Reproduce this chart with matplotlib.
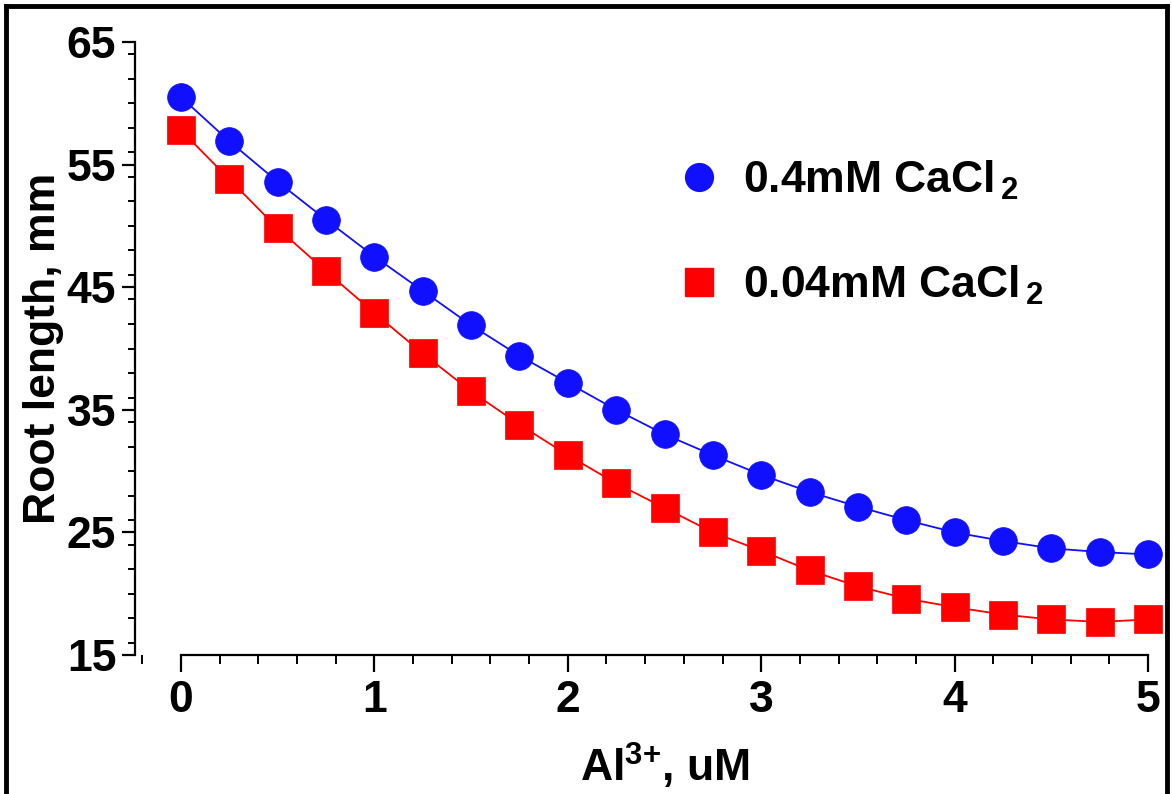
import numpy as np
import matplotlib
matplotlib.use("Agg")
import matplotlib.pyplot as plt
from matplotlib.lines import Line2D
from matplotlib.ticker import MultipleLocator

# ============================================================
# Data
# ============================================================
al_conc = [0, 0.25, 0.5, 0.75, 1.0, 1.25, 1.5, 1.75, 2.0, 2.25, 2.5,
           2.75, 3.0, 3.25, 3.5, 3.75, 4.0, 4.25, 4.5, 4.75, 5.0]
root_high_ca = [60.5, 56.9, 53.6, 50.5, 47.5, 44.7, 41.9, 39.4, 37.2, 35.0, 33.0,
                31.3, 29.7, 28.3, 27.1, 26.0, 25.0, 24.3, 23.7, 23.4, 23.2]
root_low_ca = [57.8, 53.8, 49.8, 46.3, 42.9, 39.6, 36.5, 33.8, 31.3, 29.0, 27.0,
               25.0, 23.5, 21.9, 20.6, 19.6, 18.9, 18.3, 17.9, 17.7, 17.9]
series_labels = ["0.4mM CaCl$_{\\,2}$", "0.04mM CaCl$_{\\,2}$"]
y_ticks = [15, 25, 35, 45, 55, 65]
x_ticks = [0, 1, 2, 3, 4, 5]

# ============================================================
# Style
# ============================================================
plt.rcParams["font.family"] = ["Liberation Sans", "DejaVu Sans"]
plt.rcParams["font.weight"] = "bold"
plt.rcParams["mathtext.fontset"] = "custom"
plt.rcParams["mathtext.rm"] = "Liberation Sans:bold"
plt.rcParams["mathtext.it"] = "Liberation Sans:bold"
plt.rcParams["mathtext.bf"] = "Liberation Sans:bold"
plt.rcParams["mathtext.default"] = "rm"

FS = 32
BLUE = "#1010ff"
RED = "#ff0000"

fig = plt.figure(figsize=(11.72, 7.94), dpi=100)
ax = fig.add_axes([135 / 1172, 1 - 655 / 794, (1167 - 135) / 1172, (655 - 42) / 794])

x_left = -46 / 193.4
ax.set_xlim(x_left, 5 + 19 / 193.4)
ax.set_ylim(15, 65)

ax.plot(al_conc, root_high_ca, color=BLUE, lw=1.3, marker="o", ms=20,
        mec=BLUE, mew=0.5, clip_on=False, zorder=3)
ax.plot(al_conc, root_low_ca, color=RED, lw=1.3, marker="s", ms=20,
        mec=RED, mew=0.5, clip_on=False, zorder=3)

# axes look: detached x axis, only left + bottom spines
for side in ["top", "right"]:
    ax.spines[side].set_visible(False)
ax.spines["left"].set_linewidth(1.6)
ax.spines["bottom"].set_linewidth(1.6)
ax.spines["bottom"].set_bounds(0, 5)
ax.spines["left"].set_bounds(15, 65)

ax.set_xticks(x_ticks)
ax.set_yticks(y_ticks)
ax.xaxis.set_minor_locator(MultipleLocator(0.2))
ax.yaxis.set_minor_locator(MultipleLocator(2))
ax.tick_params(axis="x", which="major", direction="out", length=12, width=1.6,
               labelsize=FS, pad=6)
ax.tick_params(axis="x", which="minor", direction="out", length=6.5, width=1.4)
ax.tick_params(axis="y", which="major", direction="out", length=9.5, width=1.6,
               labelsize=FS, pad=4)
ax.tick_params(axis="y", which="minor", direction="out", length=5, width=1.4)
for lbl in ax.get_xticklabels() + ax.get_yticklabels():
    lbl.set_fontweight("bold")

ax.set_xlabel("Al$^{3{+}}$, uM", fontsize=FS, fontweight="bold")
ax.set_ylabel("Root length, mm", fontsize=FS, fontweight="bold")
ax.xaxis.set_label_coords(0.5136, -0.14)
ax.yaxis.set_label_coords(-0.0688, 0.5)

# legend: markers only
handles = [Line2D([], [], ls="none", marker="o", ms=20, color=BLUE, mec=BLUE),
           Line2D([], [], ls="none", marker="s", ms=20, color=RED, mec=RED)]
ax.legend(handles, series_labels, loc="upper left", bbox_to_anchor=(0.525, 0.81),
          frameon=False, numpoints=1, handlelength=1.0, handletextpad=0.5,
          borderpad=0, borderaxespad=0, labelspacing=1.4,
          prop={"size": FS, "weight": "bold"})

# figure frame (top, left, right edges)
for xs, ys in [([6 / 1172, 6 / 1172], [0, 1 - 6 / 794]),
               ([6 / 1172, 1167 / 1172], [1 - 6 / 794, 1 - 6 / 794]),
               ([1167 / 1172, 1167 / 1172], [0, 1 - 6 / 794])]:
    fig.add_artist(Line2D(xs, ys, color="black", lw=3.5, transform=fig.transFigure))

fig.savefig("out.png", dpi=100)
